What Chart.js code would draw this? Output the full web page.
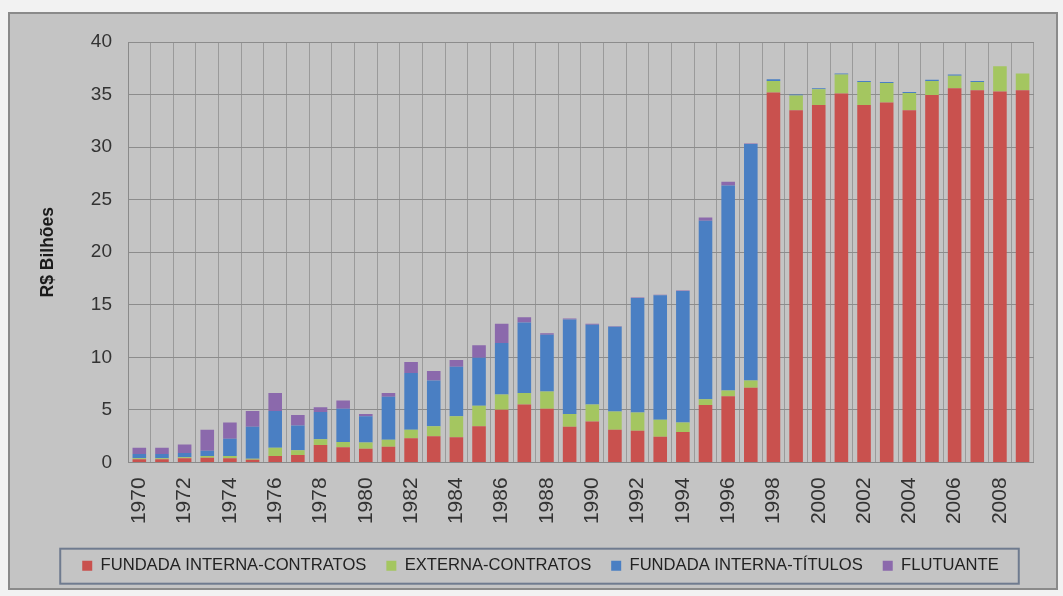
<!DOCTYPE html>
<html>
<head>
<meta charset="utf-8">
<script src="https://cdn.jsdelivr.net/npm/chart.js@4/dist/chart.umd.min.js"></script>
<style>
  html, body { margin: 0; padding: 0; background: #f2f2f2; }
  #wrap { width: 1063px; height: 596px; }
</style>
</head>
<body>
<div id="wrap"><canvas id="c" width="1063" height="596"></canvas></div>
<script>
const years = [];
for (let y = 1970; y <= 2009; y++) years.push(String(y));

const seriesNames = ["FUNDADA INTERNA-CONTRATOS", "EXTERNA-CONTRATOS", "FUNDADA INTERNA-TÍTULOS", "FLUTUANTE"];

const internaContratos = [0.3, 0.3, 0.4, 0.45, 0.4, 0.25, 0.6, 0.7, 1.65, 1.45, 1.3, 1.5, 2.3, 2.5, 2.4, 3.45,
  5.0, 5.5, 5.1, 3.4, 3.9, 3.1, 3.0, 2.45, 2.9, 5.45, 6.3, 7.1,
  35.2, 33.5, 34.0, 35.1, 34.0, 34.25, 33.5, 34.95, 35.6, 35.4, 35.3, 35.4];
const externaContratos = [0.1, 0.1, 0.1, 0.15, 0.2, 0.1, 0.8, 0.45, 0.55, 0.5, 0.6, 0.65, 0.8, 0.95, 2.0, 1.95,
  1.45, 1.1, 1.65, 1.2, 1.6, 1.75, 1.75, 1.6, 0.9, 0.55, 0.55, 0.7,
  1.1, 1.4, 1.5, 1.8, 2.2, 1.85, 1.65, 1.35, 1.2, 0.8, 2.4, 1.6];
const internaTitulos = [0.4, 0.4, 0.4, 0.5, 1.65, 3.05, 3.5, 2.35, 2.6, 3.15, 2.5, 4.1, 5.4, 4.35, 4.7, 4.55,
  4.9, 6.7, 5.4, 9.0, 7.6, 8.05, 10.9, 11.85, 12.5, 17.0, 19.5, 22.5,
  0.15, 0.1, 0.1, 0.1, 0.1, 0.1, 0.1, 0.1, 0.1, 0.1, 0.0, 0.0];
const flutuante = [0.6, 0.6, 0.8, 2.0, 1.55, 1.5, 1.7, 1.0, 0.45, 0.8, 0.2, 0.35, 1.05, 0.9, 0.65, 1.2,
  1.85, 0.5, 0.15, 0.1, 0.1, 0.05, 0.05, 0.05, 0.05, 0.3, 0.35, 0.05,
  0, 0, 0, 0, 0, 0, 0, 0, 0, 0, 0, 0];

const yTicks = [0, 5, 10, 15, 20, 25, 30, 35, 40];

const colors = ["#c9514e", "#a4c660", "#4a7fc3", "#8b69ac"];

const frame = {
  id: 'frame',
  beforeDraw(chart) {
    const ctx = chart.ctx;
    ctx.save();
    ctx.fillStyle = '#f2f2f2';
    ctx.fillRect(0, 0, chart.width, chart.height);
    ctx.fillStyle = '#c4c4c4';
    ctx.fillRect(8, 12, 1050, 578);
    ctx.strokeStyle = '#8a8a8a';
    ctx.lineWidth = 2;
    ctx.strokeRect(9, 13, 1048, 576);
    ctx.restore();
  },
  afterDraw(chart) {
    const lg = chart.legend;
    if (!lg || !lg.legendHitBoxes || !lg.legendHitBoxes.length) return;
    const hb = lg.legendHitBoxes;
    const first = hb[0], last = hb[hb.length - 1];
    const ctx = chart.ctx;
    ctx.save();
    ctx.strokeStyle = '#6f7b8f';
    ctx.lineWidth = 2;
    const x0 = first.left - 22, x1 = last.left + last.width + 20;
    const cy = first.top + first.height / 2;
    ctx.strokeRect(x0, cy - 17, x1 - x0, 35);
    ctx.restore();
  }
};

new Chart(document.getElementById('c'), {
  type: 'bar',
  data: {
    labels: years,
    datasets: [
      { label: seriesNames[0], data: internaContratos, backgroundColor: colors[0] },
      { label: seriesNames[1], data: externaContratos, backgroundColor: colors[1] },
      { label: seriesNames[2], data: internaTitulos, backgroundColor: colors[2] },
      { label: seriesNames[3], data: flutuante, backgroundColor: colors[3] }
    ]
  },
  options: {
    responsive: false,
    animation: false,
    layout: { padding: { left: 36, right: 18, top: 42, bottom: 12 } },
    datasets: { bar: { barPercentage: 0.6, categoryPercentage: 1.0, borderWidth: 0 } },
    plugins: {
      legend: {
        position: 'bottom',
        labels: {
          boxWidth: 10, boxHeight: 10, padding: 20,
          color: '#222222',
          font: { family: 'Liberation Sans, Arial, sans-serif', size: 16.6 }
        }
      },
      tooltip: { enabled: false }
    },
    scales: {
      x: {
        stacked: true,
        grid: { color: '#9a9a9a', drawTicks: false, offset: true, lineWidth: 1 },
        border: { color: '#8a8a8a' },
        afterFit(scale) { scale.height = 75; },
        ticks: {
          autoSkip: false, maxRotation: 90, minRotation: 90, padding: 15,
          color: '#333333',
          font: { family: 'Liberation Sans, Arial, sans-serif', size: 21 },
          callback(v, i) { return i % 2 === 0 ? years[i] : ''; }
        }
      },
      y: {
        stacked: true,
        min: 0, max: 40,
        afterFit(scale) { scale.width = 92; },
        afterBuildTicks(scale) { scale.ticks = yTicks.map(v => ({ value: v })); },
        grid: { color: '#8c8c8c', drawTicks: false, lineWidth: 1 },
        border: { color: '#8a8a8a' },
        ticks: {
          padding: 16, color: '#333333',
          font: { family: 'Liberation Sans, Arial, sans-serif', size: 19 }
        },
        title: {
          display: true, text: 'R$ Bilhões', color: '#1a1a1a',
          padding: { top: 2, bottom: 0 },
          font: { family: 'Liberation Sans, Arial, sans-serif', size: 17.5, weight: 'bold' }
        }
      }
    }
  },
  plugins: [frame]
});
</script>
</body>
</html>
